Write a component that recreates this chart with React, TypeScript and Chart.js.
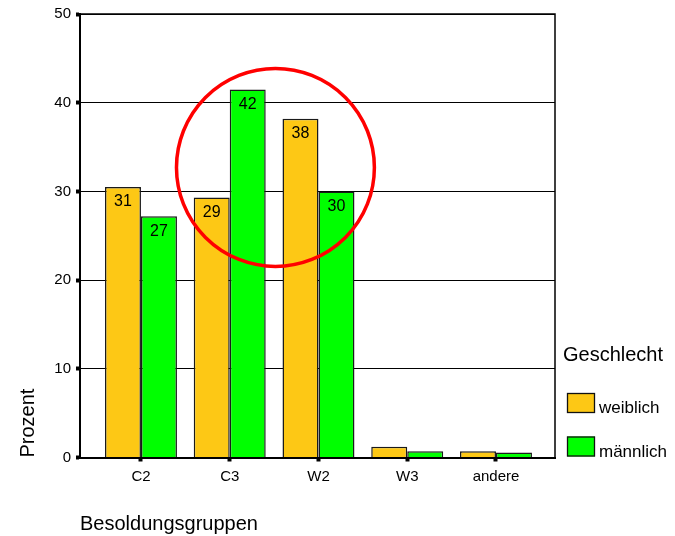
import React, { useEffect, useRef } from 'react';
import { Chart, registerables } from 'chart.js';

Chart.register(...registerables);

const categories = ['C2', 'C3', 'W2', 'W3', 'andere'];
const weiblich = [30.5, 29.3, 38.2, 1.2, 0.7];
const maennlich = [27.2, 41.5, 30.0, 0.7, 0.55];
const weiblichLabels = ['31', '29', '38', '', ''];
const maennlichLabels = ['27', '42', '30', '', ''];
const seriesNames = ['weiblich', 'männlich'];
const yTicks = [0, 10, 20, 30, 40, 50];
const legendTitle = 'Geschlecht';
const xTitle = 'Besoldungsgruppen';
const yTitle = 'Prozent';
// highlighted region (data coordinates): centre and radii
const highlight = { x: 1.515, y: 32.7, rx: 1.115, ry: 11.16 };

const FONT = '"Liberation Sans", Arial, sans-serif';
const ORANGE = '#FDC815';
const GREEN = '#00FF00';

const valueLabelPlugin = {
  id: 'valueLabels',
  afterDatasetsDraw(chart: any) {
    const ctx = chart.ctx;
    const labelSets = [weiblichLabels, maennlichLabels];
    ctx.save();
    ctx.font = `16px ${FONT}`;
    ctx.fillStyle = '#000';
    ctx.textAlign = 'center';
    ctx.textBaseline = 'middle';
    chart.data.datasets.forEach((_: any, di: number) => {
      const meta = chart.getDatasetMeta(di);
      meta.data.forEach((bar: any, i: number) => {
        const t = labelSets[di][i];
        if (t) ctx.fillText(t, bar.x, bar.y + 15);
      });
    });
    ctx.restore();
  },
};

const framePlugin = {
  id: 'frame',
  beforeDatasetsDraw(chart: any) {
    const { ctx, chartArea } = chart;
    ctx.save();
    ctx.strokeStyle = '#000';
    ctx.lineWidth = 1.5;
    ctx.beginPath();
    ctx.moveTo(chartArea.left, chartArea.top);
    ctx.lineTo(chartArea.right, chartArea.top);
    ctx.lineTo(chartArea.right, chartArea.bottom);
    ctx.stroke();
    ctx.restore();
  },
};

const highlightPlugin = {
  id: 'highlight',
  afterDatasetsDraw(chart: any) {
    const { ctx } = chart;
    const xs = chart.scales.x;
    const ys = chart.scales.y;
    const cx = xs.getPixelForValue(highlight.x);
    const cy = ys.getPixelForValue(highlight.y);
    const rx = xs.getPixelForValue(highlight.x + highlight.rx) - cx;
    const ry = cy - ys.getPixelForValue(highlight.y + highlight.ry);
    ctx.save();
    ctx.strokeStyle = '#FF0000';
    ctx.lineWidth = 3.5;
    ctx.beginPath();
    ctx.ellipse(cx, cy, rx, ry, 0, 0, Math.PI * 2);
    ctx.stroke();
    ctx.restore();
  },
};

const legendPlugin = {
  id: 'customLegend',
  afterDraw(chart: any) {
    const { ctx, chartArea } = chart;
    const left = chartArea.right + 8;
    ctx.save();
    ctx.fillStyle = '#000';
    ctx.font = `20px ${FONT}`;
    ctx.textAlign = 'left';
    ctx.textBaseline = 'middle';
    ctx.fillText(legendTitle, left, 355);
    ctx.font = `17px ${FONT}`;
    ctx.textBaseline = 'alphabetic';
    chart.data.datasets.forEach((ds: any, i: number) => {
      const y = 393 + i * 43.5;
      ctx.fillStyle = ds.backgroundColor;
      ctx.fillRect(left + 4, y, 28, 20);
      ctx.strokeStyle = '#111';
      ctx.lineWidth = 1.3;
      ctx.strokeRect(left + 4.5, y + 0.5, 27, 19);
      ctx.fillStyle = '#000';
      ctx.fillText(ds.label, left + 36, y + 20);
    });
    ctx.restore();
  },
};

export default function App() {
  const ref = useRef<HTMLCanvasElement>(null);

  useEffect(() => {
    if (!ref.current) return;
    const chart = new Chart(ref.current, {
      type: 'bar',
      data: {
        datasets: [
          {
            label: seriesNames[0],
            data: categories.map((_, i) => ({ x: i, y: weiblich[i] })),
            backgroundColor: ORANGE,
            borderColor: '#1a1a1a',
            borderWidth: 1.5,
          },
          {
            label: seriesNames[1],
            data: categories.map((_, i) => ({ x: i, y: maennlich[i] })),
            backgroundColor: GREEN,
            borderColor: '#1a1a1a',
            borderWidth: 1.5,
          },
        ],
      },
      options: {
        responsive: false,
        animation: false,
        devicePixelRatio: 1,
        layout: { padding: { top: 14, right: 120, left: 0, bottom: 0 } },
        datasets: { bar: { categoryPercentage: 0.811, barPercentage: 1 } },
        plugins: {
          legend: { display: false },
          tooltip: { enabled: false },
        },
        scales: {
          x: {
            type: 'linear',
            min: -0.687,
            max: 4.665,
            offset: false,
            afterBuildTicks: (s: any) => {
              s.ticks = categories.map((_, i) => ({ value: i }));
            },
            afterFit: (s: any) => {
              s.height = 78.5;
            },
            grid: {
              display: true,
              drawOnChartArea: false,
              drawTicks: true,
              tickLength: 4,
              tickWidth: 4,
              tickColor: '#000',
              offset: false,
            },
            border: { display: true, color: '#000', width: 2 },
            ticks: {
              color: '#000',
              font: { family: FONT, size: 15 },
              padding: 6,
              maxRotation: 0,
              autoSkip: false,
              callback: (v: any) => categories[v] ?? '',
            },
            title: {
              display: true,
              text: xTitle,
              align: 'start',
              color: '#000',
              font: { family: FONT, size: 20 },
              padding: { top: 20, bottom: 0 },
            },
          },
          y: {
            min: 0,
            max: 50,
            afterBuildTicks: (s: any) => {
              s.ticks = yTicks.map((v) => ({ value: v }));
            },
            afterFit: (s: any) => {
              s.width = 80;
            },
            grid: {
              color: '#000',
              lineWidth: 1,
              drawTicks: true,
              tickLength: 4,
              tickWidth: 4,
              tickColor: '#000',
            },
            border: { display: true, color: '#000', width: 2 },
            ticks: {
              color: '#000',
              font: { family: FONT, size: 15 },
              padding: 5,
              callback: (v: any) => String(v),
            },
            title: {
              display: true,
              text: yTitle,
              align: 'start',
              color: '#000',
              font: { family: FONT, size: 20 },
              padding: { top: 16, bottom: 0 },
            },
          },
        },
      } as any,
      plugins: [framePlugin, valueLabelPlugin, highlightPlugin, legendPlugin],
    });
    return () => chart.destroy();
  }, []);

  return (
    <div style={{ position: 'fixed', left: 0, top: 0, width: 675, height: 536, background: '#fff' }}>
      <canvas ref={ref} width={675} height={536} style={{ display: 'block' }} />
    </div>
  );
}
